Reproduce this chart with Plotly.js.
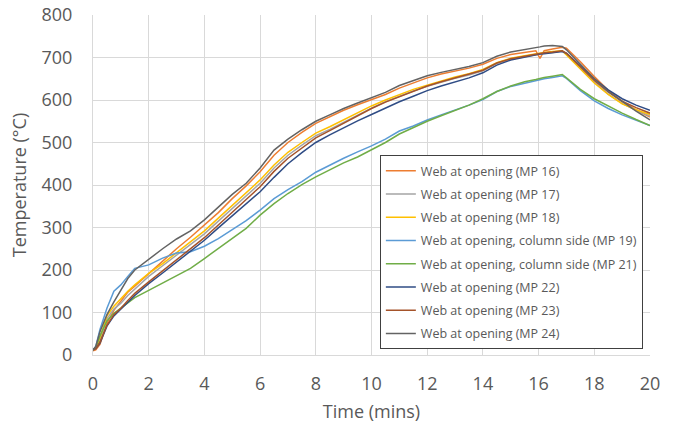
<!DOCTYPE html>
<html>
<head>
<meta charset="utf-8">
<script src="https://cdn.plot.ly/plotly-3.0.1.min.js"></script>
<style>html,body{margin:0;padding:0;background:#fff;}#chart{width:675px;height:427px;}</style>
</head>
<body>
<div id="chart"></div>
<script>
var time = [0, 0.1, 0.25, 0.5, 0.75, 1, 1.25, 1.5, 2, 2.5, 3, 3.5, 4, 4.5, 5, 5.5, 6, 6.5, 7, 7.5, 8, 8.5, 9, 9.5, 10, 10.5, 11, 11.5, 12, 12.5, 13, 13.5, 14, 14.5, 15, 15.5, 15.9, 16.05, 16.2, 16.5, 16.85, 17, 17.5, 18, 18.5, 19, 19.5, 20];

var mp16 = [10, 12, 25, 75, 105, 128, 148, 162, 192, 220, 250, 277, 305, 335, 368, 398, 431, 470, 500, 524, 545, 561, 576, 589, 601, 613, 628, 640, 652, 661, 668, 675, 684, 698, 707, 713, 716, 698, 716, 720, 724, 722, 690, 655, 623, 597, 577, 560];
var mp17 = [12, 16, 35, 85, 108, 122, 140, 155, 185, 210, 235, 258, 285, 315, 345, 374, 404, 440, 470, 494, 516, 531, 548, 565, 581, 596, 609, 621, 632, 642, 651, 659, 669, 686, 696, 702, 707, 709, 710, 712, 715, 707, 674, 642, 614, 592, 576, 562];
var mp18 = [12, 18, 40, 92, 115, 133, 150, 165, 192, 215, 240, 265, 292, 322, 352, 382, 412, 447, 477, 500, 522, 537, 553, 570, 586, 600, 613, 625, 635, 645, 654, 662, 672, 688, 698, 704, 709, 711, 712, 714, 716, 706, 672, 640, 613, 591, 577, 566];
var mp19 = [12, 20, 60, 110, 150, 165, 185, 204, 212, 228, 240, 243, 256, 274, 295, 316, 341, 368, 389, 408, 430, 447, 463, 478, 492, 508, 527, 539, 553, 565, 576, 588, 601, 620, 632, 640, 646, 648, 650, 653, 657, 651, 622, 598, 580, 565, 552, 540];
var mp21 = [12, 18, 45, 80, 98, 110, 122, 135, 152, 170, 188, 204, 227, 251, 273, 298, 329, 356, 380, 401, 419, 436, 452, 466, 483, 500, 520, 535, 550, 563, 575, 588, 603, 620, 633, 643, 648, 651, 653, 656, 660, 652, 625, 603, 585, 569, 554, 540];
var mp22 = [12, 15, 28, 68, 92, 107, 124, 140, 168, 193, 218, 244, 270, 299, 328, 356, 384, 418, 450, 476, 500, 518, 535, 551, 566, 581, 596, 609, 622, 633, 643, 652, 664, 682, 694, 701, 706, 708, 709, 711, 714, 710, 680, 650, 624, 603, 588, 576];
var mp23 = [12, 15, 30, 70, 95, 110, 128, 145, 172, 198, 222, 248, 276, 306, 337, 366, 396, 432, 463, 488, 511, 528, 546, 564, 580, 595, 608, 620, 633, 643, 652, 660, 670, 687, 697, 703, 708, 710, 711, 713, 716, 710, 678, 646, 619, 597, 582, 569];
var mp24 = [12, 20, 55, 95, 125, 152, 180, 200, 226, 250, 273, 292, 318, 348, 378, 404, 440, 482, 508, 530, 550, 565, 580, 593, 606, 618, 634, 646, 657, 665, 672, 679, 688, 703, 713, 718, 723, 725, 727, 728, 726, 718, 684, 650, 620, 596, 574, 553];

var names = ["Web at opening (MP 16)", "Web at opening (MP 17)", "Web at opening (MP 18)",
  "Web at opening, column side (MP 19)", "Web at opening, column side (MP 21)",
  "Web at opening (MP 22)", "Web at opening (MP 23)", "Web at opening (MP 24)"];
var series = [mp16, mp17, mp18, mp19, mp21, mp22, mp23, mp24];
var colors = ["#ED7D31", "#A5A5A5", "#FFC000", "#5B9BD5", "#70AD47", "#2F4C85", "#A5532A", "#636363"];

var traces = series.map(function (s, i) {
  return {
    x: time, y: s, name: names[i], type: "scatter", mode: "lines",
    line: {color: colors[i], width: 1.5},
    legendgroup: "g" + i
  };
});

var font = "'Open Sans', 'Liberation Sans', sans-serif";
var layout = {
  width: 675, height: 427,
  margin: {l: 93, r: 25, t: 15, b: 72},
  paper_bgcolor: "#fff", plot_bgcolor: "#fff",
  font: {family: font, color: "#595959"},
  showlegend: true,
  legend: {
    x: 0.515, y: 0.588, xanchor: "left", yanchor: "top",
    bgcolor: "#fff", bordercolor: "#404040", borderwidth: 1,
    font: {size: 12.5, color: "#595959", family: font},
    tracegroupgap: 4, itemwidth: 30
  },
  xaxis: {
    range: [0, 20], dtick: 2, tick0: 0,
    showgrid: true, gridcolor: "#d9d9d9", gridwidth: 1,
    zeroline: false, showline: true, linecolor: "#d9d9d9",
    ticks: "", tickfont: {size: 18, color: "#595959"}, ticklabelstandoff: 12,
    title: {text: "Time (mins)", font: {size: 18, color: "#595959"}, standoff: 11}
  },
  yaxis: {
    range: [0, 800], dtick: 100, tick0: 0,
    showgrid: true, gridcolor: "#d9d9d9", gridwidth: 1,
    zeroline: false, showline: true, linecolor: "#d9d9d9",
    ticks: "", tickfont: {size: 18, color: "#595959"}, ticklabelstandoff: 16,
    title: {text: "Temperature (°C)", font: {size: 18, color: "#595959"}, standoff: 10}
  }
};

Plotly.newPlot("chart", traces, layout, {staticPlot: true, displayModeBar: false});
</script>
</body>
</html>
